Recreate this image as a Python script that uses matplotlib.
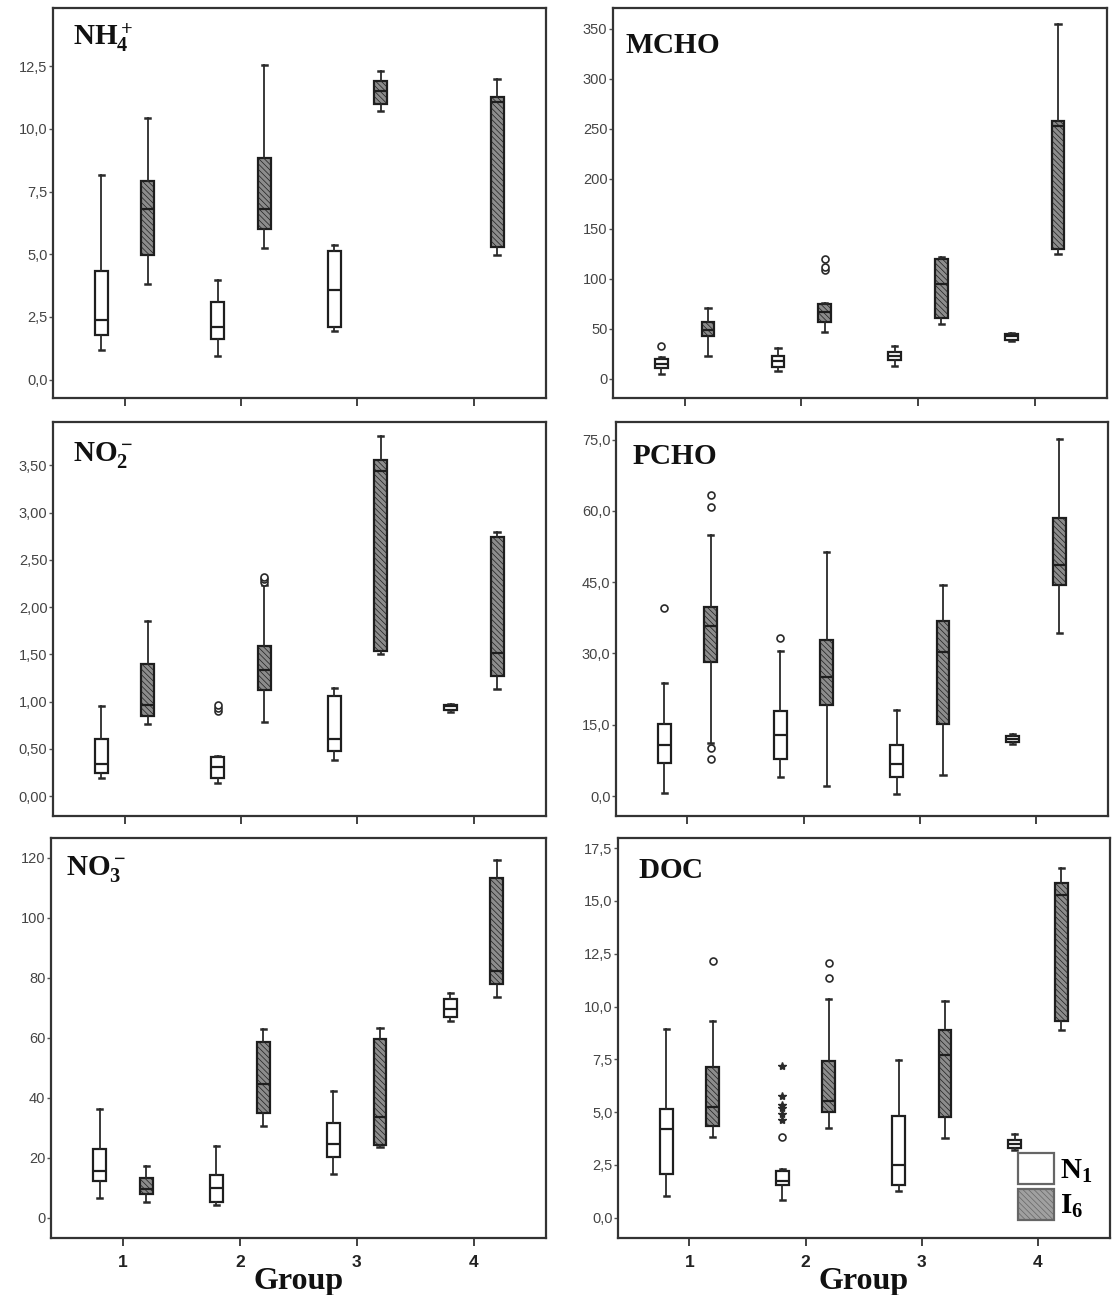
import numpy as np
import matplotlib
matplotlib.use("Agg")
import matplotlib.pyplot as plt
from matplotlib.patches import Patch
from matplotlib.ticker import FuncFormatter

plt.rcParams['font.family'] = ['Liberation Sans', 'DejaVu Sans']
plt.rcParams['mathtext.fontset'] = 'custom'
plt.rcParams['mathtext.rm'] = 'Liberation Serif:bold'
plt.rcParams['mathtext.bf'] = 'Liberation Serif:bold'
plt.rcParams['mathtext.it'] = 'Liberation Serif:bold'
plt.rcParams['hatch.linewidth'] = 0.5

groups = [1, 2, 3, 4]
series = ['N1', 'I6']

# each box: (whisker low, q1, median, q3, whisker high); order G1 N1, G1 I6, G2 N1, ...
nh4_boxes = [(1.17, 1.79, 2.39, 4.33, 8.18), (3.80, 4.97, 6.79, 7.91, 10.45),
             (0.93, 1.63, 2.12, 3.08, 3.98), (5.24, 5.99, 6.81, 8.84, 12.55),
             (1.95, 2.12, 3.58, 5.13, 5.37), (10.71, 11.0, 11.53, 11.9, 12.3),
             None, (4.97, 5.28, 11.07, 11.29, 11.97)]
nh4_fliers = [[], [], [], [], [], [], [], []]

mcho_boxes = [(5, 10.6, 15, 20, 22), (23.3, 42.6, 49, 57, 71.5),
              (7.6, 12.3, 18.3, 23.3, 30.6), (46.6, 56.6, 67, 75, 76.5),
              (12.6, 19.3, 23.3, 26.6, 32.6), (55, 61.5, 94.8, 120.4, 122.4),
              (38.5, 39.5, 42.6, 45.5, 46.5), (124.7, 130.4, 252.8, 257.8, 355.3)]
mcho_fliers = [[33], [], [], [109, 112, 120], [], [], [], []]

no2_boxes = [(0.19, 0.25, 0.34, 0.61, 0.95), (0.76, 0.85, 0.97, 1.40, 1.85),
             (0.14, 0.19, 0.31, 0.41, 0.42), (0.79, 1.12, 1.33, 1.59, 2.24),
             (0.38, 0.48, 0.60, 1.06, 1.14), (1.50, 1.54, 3.44, 3.56, 3.81),
             (0.89, 0.91, 0.95, 0.97, 0.98), (1.13, 1.27, 1.52, 2.74, 2.80)]
no2_fliers = [[], [], [0.90, 0.93, 0.96], [2.27, 2.30, 2.32], [], [], [], []]

pcho_boxes = [(0.6, 6.9, 10.8, 15.2, 23.8), (11.2, 28.1, 35.8, 39.7, 54.9),
              (4.0, 7.8, 12.9, 17.8, 30.5), (2.1, 19.2, 25.1, 32.8, 51.3),
              (0.5, 4.0, 6.7, 10.7, 18.1), (4.4, 15.2, 30.4, 36.9, 44.5),
              (11.0, 11.3, 11.9, 12.7, 13.1), (34.3, 44.5, 48.7, 58.6, 75.2)]
pcho_fliers = [[39.5], [10.2, 7.8, 60.9, 63.3], [33.2], [], [], [], [], []]

no3_boxes = [(6.5, 12.1, 15.6, 23.0, 36.1), (5.3, 7.9, 9.6, 13.3, 17.2),
             (4.3, 5.3, 9.9, 14.1, 23.9), (30.5, 35.0, 44.5, 58.7, 63.0),
             (14.7, 20.3, 24.5, 31.6, 42.2), (23.5, 24.3, 33.5, 59.6, 63.4),
             (65.7, 66.8, 69.6, 72.8, 74.8), (73.7, 77.9, 82.4, 113.4, 119.4)]
no3_fliers = [[], [], [], [], [], [], [], []]

doc_boxes = [(1.04, 2.08, 4.2, 5.15, 8.95), (3.84, 4.36, 5.24, 7.14, 9.30),
             (0.85, 1.55, 1.73, 2.2, 2.32), (4.27, 5.0, 5.55, 7.43, 10.34),
             (1.28, 1.55, 2.5, 4.83, 7.46), (3.79, 4.79, 7.70, 8.87, 10.26),
             (3.2, 3.32, 3.48, 3.7, 3.95), (8.87, 9.30, 15.26, 15.87, 16.57)]
doc_fliers = [[], [12.15], [3.8], [11.35, 12.07], [], [], [], []]
doc_extremes = [4.63, 4.9, 5.19, 5.35, 5.75, 7.19]  # '*' marks, group 2 N1

W, H = 1112, 1295
fig = plt.figure(figsize=(W / 100, H / 100), dpi=100)

I6_FACE = '#8c8c8c'
I6_HATCH = '\\\\\\\\\\\\'


def make_axes(left, top, width, height):
    return fig.add_axes([left / W, 1 - (top + height) / H, width / W, height / H])


def draw_panel(ax, boxes, fliers, title, tpos, yticks, decimals, ylim, show_x):
    stats, pos, kinds = [], [], []
    for i, b in enumerate(boxes):
        if b is None:
            continue
        lo, q1, med, q3, hi = b
        stats.append(dict(whislo=lo, q1=q1, med=med, q3=q3, whishi=hi, fliers=fliers[i]))
        pos.append(groups[i // 2] + (-0.2 if i % 2 == 0 else 0.2))
        kinds.append(series[i % 2])
    bp = ax.bxp(stats, positions=pos, widths=0.11, capwidths=0.045, patch_artist=True,
                boxprops=dict(linewidth=1.6, edgecolor='#1e1e1e'),
                medianprops=dict(color='#1e1e1e', linewidth=1.6),
                whiskerprops=dict(color='#2a2a2a', linewidth=1.3),
                capprops=dict(color='#2a2a2a', linewidth=1.8),
                flierprops=dict(marker='o', markersize=5, markerfacecolor='white',
                                markeredgecolor='#2a2a2a', markeredgewidth=1.2))
    for patch, k in zip(bp['boxes'], kinds):
        if k == 'I6':
            patch.set_facecolor(I6_FACE)
            patch.set_hatch(I6_HATCH)
        else:
            patch.set_facecolor('white')

    ax.set_xlim(0.385, 4.62)
    ax.set_ylim(*ylim)
    ax.set_yticks(yticks)
    ax.yaxis.set_major_formatter(FuncFormatter(
        lambda v, p: ('{:.%df}' % decimals).format(v).replace('.', ',')))
    ax.set_xticks(groups)
    if show_x:
        ax.set_xticklabels([str(g) for g in groups], fontsize=12.5, fontweight='bold', color='#222')
        ax.set_xlabel('Group', fontsize=23, fontweight='bold', family='Liberation Serif',
                      color='#111', labelpad=-2)
    else:
        ax.set_xticklabels([])
    ax.tick_params(axis='x', direction='out', length=6, width=1.3, color='#333', pad=6)
    ax.tick_params(axis='y', direction='out', length=3, width=1.0, color='#555',
                   labelsize=10.5, labelcolor='#444', pad=1)
    for s in ax.spines.values():
        s.set_linewidth(1.6)
        s.set_color('#333')
    ax.text(tpos[0], tpos[1], title, transform=ax.transAxes, ha='left', va='top',
            fontsize=21, color='#111')
    return pos, kinds


ax1 = make_axes(53, 8, 493, 390)
draw_panel(ax1, nh4_boxes, nh4_fliers, r'$\mathbf{NH_4^+}$', (0.04, 0.965),
           np.arange(0, 12.6, 2.5), 1, (-0.73, 14.82), False)

ax2 = make_axes(613, 8, 494, 390)
draw_panel(ax2, mcho_boxes, mcho_fliers, r'$\mathbf{MCHO}$', (0.025, 0.94),
           np.arange(0, 351, 50), 0, (-19, 371), False)

ax3 = make_axes(53, 422, 493, 394)
draw_panel(ax3, no2_boxes, no2_fliers, r'$\mathbf{NO_2^-}$', (0.04, 0.955),
           np.arange(0, 3.51, 0.5), 2, (-0.21, 3.96), False)

ax4 = make_axes(616, 422, 492, 394)
draw_panel(ax4, pcho_boxes, pcho_fliers, r'$\mathbf{PCHO}$', (0.033, 0.95),
           np.arange(0, 75.1, 15), 1, (-4.2, 78.7), False)

ax5 = make_axes(51, 838, 495, 400)
draw_panel(ax5, no3_boxes, no3_fliers, r'$\mathbf{NO_3^-}$', (0.03, 0.96),
           np.arange(0, 121, 20), 0, (-6.8, 126.6), True)

ax6 = make_axes(618, 838, 492, 400)
pos6, kinds6 = draw_panel(ax6, doc_boxes, doc_fliers, r'$\mathbf{DOC}$', (0.04, 0.955),
                          np.arange(0, 17.6, 2.5), 1, (-0.96, 17.98), True)
ax6.plot([groups[1] - 0.2] * len(doc_extremes), doc_extremes, ls='none', marker='*',
         markersize=6, color='#2a2a2a')

handles = [Patch(facecolor='white', edgecolor='#666', linewidth=1.6),
           Patch(facecolor='#a0a0a0', edgecolor='#666', hatch=I6_HATCH, linewidth=1.6)]
ax6.legend(handles, [r'$\mathbf{N_1}$', r'$\mathbf{I_6}$'], loc='lower right',
           frameon=False, fontsize=21, handlelength=1.25, handleheight=1.25,
           handletextpad=0.2, labelspacing=0.15, borderaxespad=0.2)

fig.savefig('out.png', dpi=100)
